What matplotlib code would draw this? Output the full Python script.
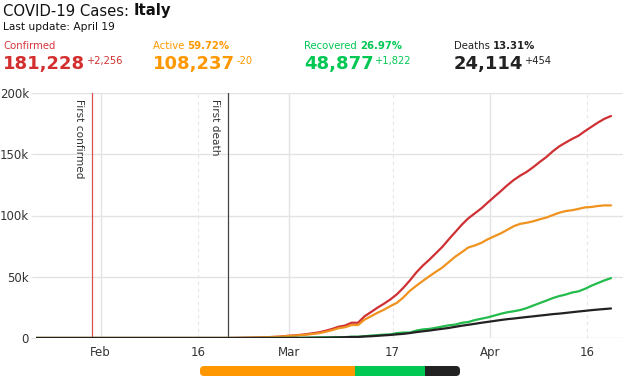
import numpy as np
import pandas as pd
import matplotlib.pyplot as plt
import matplotlib.dates as mdates
from matplotlib.patches import FancyBboxPatch
from matplotlib.ticker import FuncFormatter, FixedLocator

# datos diarios (Italia), 22 ene → 20 abr; las fechas van con -8h (hora local del sitio)
FECHA_INICIO = "2020-01-21 16:00"
confirmados = ([0] * 9 + [2] * 7 + [3] * 14 +
               [20, 62, 155, 229, 322, 453, 655, 888, 1128,
                1694, 2036, 2502, 3089, 3858, 4636, 5883, 7375, 9172, 10149,
                12462, 12462, 17660, 21157, 24747, 27980, 31506, 35713, 41035, 47021,
                53578, 59138, 63927, 69176, 74386, 80589, 86498, 92472, 97689, 101739,
                105792,
                110574, 115242, 119827, 124632, 128948, 132547, 135586, 139422, 143626,
                147577, 152271, 156363, 159516, 162488, 165155, 168941, 172434, 175925,
                178972, 181228])
activos = ([0] * 9 + [2] * 7 + [3] * 14 +
           [19, 59, 150, 221, 311, 438, 593, 821, 1053,
            1577, 1835, 2263, 2706, 3296, 3916, 5061, 6387, 7985, 8794,
            10590, 10590, 14955, 17750, 20603, 23073, 26062, 28710, 33190, 38549,
            42681, 46638, 50418, 54030, 57521, 62013, 66414, 70065, 73880, 75528,
            77635,
            80572, 83049, 85388, 88274, 91246, 93187, 94067, 95262, 96877,
            98273, 100269, 102253, 103616, 104291, 105418, 106607, 106962, 107771,
            108257, 108237])
recuperados = ([0] * 30 +
               [0, 1, 2, 1, 1, 3, 45, 46, 46,
                83, 149, 160, 276, 414, 523, 589, 622, 724, 724,
                1045, 1045, 1439, 1966, 2335, 2749, 2941, 4025, 4440, 4440,
                6072, 7024, 7432, 8326, 9362, 10361, 10950, 12384, 13030, 14620,
                15729,
                16847, 18278, 19758, 20996, 21815, 22837, 24392, 26491, 28470,
                30455, 32534, 34211, 35435, 37130, 38092, 40164, 42727, 44927,
                47055, 48877])
muertes = ([0] * 30 +
           [1, 2, 3, 7, 10, 12, 17, 21, 29,
            34, 52, 79, 107, 148, 197, 233, 366, 463, 631,
            827, 827, 1266, 1441, 1809, 2158, 2503, 2978, 3405, 4032,
            4825, 5476, 6077, 6820, 7503, 8215, 9134, 10023, 10779, 11591,
            12428,
            13155, 13915, 14681, 15362, 15887, 16523, 17127, 17669, 18279,
            18849, 19468, 19899, 20465, 21067, 21645, 22170, 22745, 23227,
            23660, 24114])

SERIES      = ["Confirmed", "Active", "Recovered", "Deaths"]
TOTALES     = ["181,228", "108,237", "48,877", "24,114"]
DELTAS      = ["+2,256", "-20", "+1,822", "+454"]
PORCENTAJES = ["", "59.72%", "26.97%", "13.31%"]
PROPORCION  = [59.72, 26.97, 13.31]   # barra inferior: activos / recuperados / muertes
EVENTOS     = [("2020-01-30 16:00", "First confirmed"), ("2020-02-20 16:00", "First death")]
TICKS_DIA   = ["2020-02-16", "2020-03-17", "2020-04-16"]

COL_LINEA  = ["#cf3034", "#f0921e", "#22bb4c", "#222222"]
COL_TEXTO  = ["#d9363e", "#ff9800", "#00c853", "#222222"]
COL_NUM    = ["#d32f2f", "#ff9800", "#00c853", "#222222"]
COL_BARRA  = ["#ff9800", "#00c853", "#222222"]
COL_EVENTO = ["#d9534f", "#444444"]
GRIS_GRID  = "#e3e3e3"

fechas = pd.date_range(FECHA_INICIO, periods=len(confirmados), freq="D")

fig = plt.figure(figsize=(6.27, 3.83), dpi=100)
ax = fig.add_axes([35.8 / 627, 1 - 338 / 383, 587.5 / 627, 245 / 383])

# --- lineas ---
for vals, col in zip([confirmados, activos, recuperados, muertes], COL_LINEA):
    ax.plot(fechas, vals, color=col, lw=1.6, solid_capstyle="round", zorder=3)

# --- eventos verticales ---
for (f, txt), col in zip(EVENTOS, COL_EVENTO):
    x = pd.Timestamp(f)
    ax.axvline(x, color=col, lw=0.9, zorder=2)
    ax.annotate(txt, (x, 200000), xytext=(-6, -4), textcoords="offset points",
                rotation=270, ha="right", va="top", fontsize=7.6, color="#333")

# --- ejes ---
ax.set_ylim(0, 200000)
ax.set_xlim(pd.Timestamp("2020-01-22 00:00"), pd.Timestamp("2020-04-21 13:30"))
ax.set_yticks([0, 50000, 100000, 150000, 200000])
ax.yaxis.set_major_formatter(FuncFormatter(lambda v, p: "0" if v == 0 else f"{int(v/1000)}k"))

ax.xaxis.set_major_locator(mdates.MonthLocator())
ax.xaxis.set_major_formatter(mdates.DateFormatter("%b"))
ax.xaxis.set_minor_locator(FixedLocator([mdates.date2num(pd.Timestamp(d)) for d in TICKS_DIA]))
ax.xaxis.set_minor_formatter(mdates.DateFormatter("%d"))

ax.grid(axis="y", color=GRIS_GRID, lw=1)
ax.grid(axis="x", which="major", color=GRIS_GRID, lw=1)
ax.grid(axis="x", which="minor", color="#e6e6e6", lw=0.8, ls=(0, (3, 3)))
ax.set_axisbelow(True)
for s in ax.spines.values():
    s.set_visible(False)
ax.tick_params(axis="y", length=3.5, color=GRIS_GRID, labelsize=8.5, labelcolor="#333", pad=1.5)
ax.tick_params(axis="x", which="both", length=0, labelsize=8.5, labelcolor="#333", pad=6)

# --- cabecera ---
t1 = fig.text(3 / 627, 1 - 11 / 383, "COVID-19 Cases: ", fontsize=10.7, va="center", color="#111")
ax.annotate("Italy", xy=(1, 0), xycoords=t1, va="bottom", fontsize=10.7,
            fontweight="bold", color="#111")
fig.text(3 / 627, 1 - 27 / 383, "Last update: April 19", fontsize=7.7, va="center", color="#111")

xs = [3, 153, 304, 454]
for i, nombre in enumerate(SERIES):
    x0 = xs[i] / 627
    lab = fig.text(x0, 1 - 46 / 383, nombre + (" " if PORCENTAJES[i] else ""),
                   fontsize=7.3, va="center", color=COL_TEXTO[i])
    if PORCENTAJES[i]:
        ax.annotate(PORCENTAJES[i], xy=(1, 0), xycoords=lab, va="bottom",
                    fontsize=7.3, fontweight="bold", color=COL_TEXTO[i])
    num = fig.text(x0, 1 - 64 / 383, TOTALES[i], fontsize=13, fontweight="bold",
                   va="center", color=COL_NUM[i])
    ax.annotate(DELTAS[i], xy=(1, 1), xycoords=num, xytext=(1, -1),
                textcoords="offset points", va="top", fontsize=7.1, color=COL_NUM[i])

# --- barra de proporciones (extremos redondeados) ---
bx = fig.add_axes([200 / 627, 1 - 376 / 383, 260 / 627, 10 / 383])
bx.set_xlim(0, 100)
bx.set_ylim(0, 100 * 10 / 260)
bx.axis("off")
marco = FancyBboxPatch((0, 0), 100, 100 * 10 / 260,
                       boxstyle=f"round,pad=0,rounding_size={100 * 4 / 260}",
                       transform=bx.transData, fc="none", ec="none")
bx.add_patch(marco)
izq = 0
for p, col in zip(PROPORCION, COL_BARRA):
    seg = bx.barh(100 * 5 / 260, p, left=izq, height=100 * 10 / 260, color=col, lw=0)
    for r in seg:
        r.set_clip_path(marco)
    izq += p

fig.savefig("out.png", dpi=100, facecolor="white")
